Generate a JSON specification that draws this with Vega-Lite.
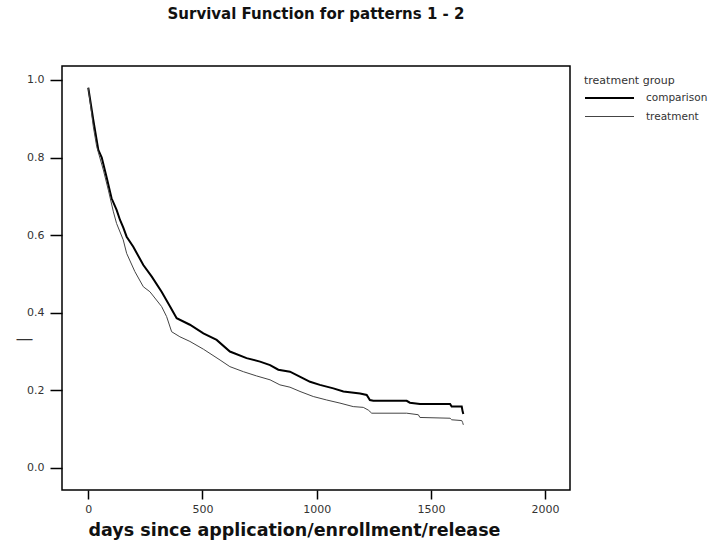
{
  "$schema": "https://vega.github.io/schema/vega-lite/v6.json",
  "width": 508,
  "height": 424,
  "autosize": {"type": "none"},
  "padding": {"left": 62, "top": 66, "right": 143, "bottom": 54},
  "background": "white",
  "config": {
    "view": {"stroke": "black", "strokeWidth": 1.5},
    "font": "Liberation Sans"
  },
  "title": {
    "text": "Survival Function for patterns 1 - 2",
    "font": "DejaVu Sans",
    "fontSize": 15,
    "fontWeight": "bold",
    "offset": 44,
    "color": "#111"
  },
  "data": {
    "values": [
      {"group": "comparison", "days": 0, "survival": 0.98},
      {"group": "comparison", "days": 22, "survival": 0.897},
      {"group": "comparison", "days": 44, "survival": 0.82},
      {"group": "comparison", "days": 59, "survival": 0.8},
      {"group": "comparison", "days": 80, "survival": 0.75},
      {"group": "comparison", "days": 102, "survival": 0.695},
      {"group": "comparison", "days": 124, "survival": 0.665},
      {"group": "comparison", "days": 139, "survival": 0.639},
      {"group": "comparison", "days": 153, "survival": 0.62},
      {"group": "comparison", "days": 168, "survival": 0.596},
      {"group": "comparison", "days": 197, "survival": 0.57},
      {"group": "comparison", "days": 241, "survival": 0.523},
      {"group": "comparison", "days": 278, "survival": 0.493},
      {"group": "comparison", "days": 321, "survival": 0.454},
      {"group": "comparison", "days": 358, "survival": 0.416},
      {"group": "comparison", "days": 387, "survival": 0.386},
      {"group": "comparison", "days": 445, "survival": 0.369},
      {"group": "comparison", "days": 504, "survival": 0.347},
      {"group": "comparison", "days": 562, "survival": 0.33},
      {"group": "comparison", "days": 620, "survival": 0.3},
      {"group": "comparison", "days": 693, "survival": 0.283},
      {"group": "comparison", "days": 752, "survival": 0.274},
      {"group": "comparison", "days": 796, "survival": 0.265},
      {"group": "comparison", "days": 832, "survival": 0.253},
      {"group": "comparison", "days": 883, "survival": 0.248},
      {"group": "comparison", "days": 941, "survival": 0.231},
      {"group": "comparison", "days": 971, "survival": 0.222},
      {"group": "comparison", "days": 1014, "survival": 0.214},
      {"group": "comparison", "days": 1073, "survival": 0.205},
      {"group": "comparison", "days": 1117, "survival": 0.197},
      {"group": "comparison", "days": 1190, "survival": 0.192},
      {"group": "comparison", "days": 1219, "survival": 0.188},
      {"group": "comparison", "days": 1233, "survival": 0.175},
      {"group": "comparison", "days": 1248, "survival": 0.173},
      {"group": "comparison", "days": 1394, "survival": 0.173},
      {"group": "comparison", "days": 1408, "survival": 0.168},
      {"group": "comparison", "days": 1452, "survival": 0.165},
      {"group": "comparison", "days": 1584, "survival": 0.165},
      {"group": "comparison", "days": 1591, "survival": 0.158},
      {"group": "comparison", "days": 1635, "survival": 0.158},
      {"group": "comparison", "days": 1639, "survival": 0.145},
      {"group": "comparison", "days": 1642, "survival": 0.139},
      {"group": "treatment", "days": 0, "survival": 0.98},
      {"group": "treatment", "days": 22, "survival": 0.88},
      {"group": "treatment", "days": 37, "survival": 0.828},
      {"group": "treatment", "days": 66, "survival": 0.768},
      {"group": "treatment", "days": 88, "survival": 0.716},
      {"group": "treatment", "days": 110, "survival": 0.66},
      {"group": "treatment", "days": 124, "survival": 0.63},
      {"group": "treatment", "days": 153, "survival": 0.588},
      {"group": "treatment", "days": 168, "survival": 0.553},
      {"group": "treatment", "days": 204, "survival": 0.506},
      {"group": "treatment", "days": 241, "survival": 0.467},
      {"group": "treatment", "days": 270, "survival": 0.454},
      {"group": "treatment", "days": 321, "survival": 0.416},
      {"group": "treatment", "days": 343, "survival": 0.39},
      {"group": "treatment", "days": 365, "survival": 0.351},
      {"group": "treatment", "days": 401, "survival": 0.338},
      {"group": "treatment", "days": 445, "survival": 0.326},
      {"group": "treatment", "days": 504, "survival": 0.306},
      {"group": "treatment", "days": 577, "survival": 0.278},
      {"group": "treatment", "days": 620, "survival": 0.261},
      {"group": "treatment", "days": 679, "survival": 0.248},
      {"group": "treatment", "days": 737, "survival": 0.237},
      {"group": "treatment", "days": 796, "survival": 0.227},
      {"group": "treatment", "days": 839, "survival": 0.214},
      {"group": "treatment", "days": 883, "survival": 0.208},
      {"group": "treatment", "days": 927, "survival": 0.197},
      {"group": "treatment", "days": 985, "survival": 0.184},
      {"group": "treatment", "days": 1044, "survival": 0.175},
      {"group": "treatment", "days": 1102, "survival": 0.167},
      {"group": "treatment", "days": 1160, "survival": 0.158},
      {"group": "treatment", "days": 1204, "survival": 0.156},
      {"group": "treatment", "days": 1226, "survival": 0.149},
      {"group": "treatment", "days": 1241, "survival": 0.141},
      {"group": "treatment", "days": 1394, "survival": 0.141},
      {"group": "treatment", "days": 1445, "survival": 0.137},
      {"group": "treatment", "days": 1452, "survival": 0.13},
      {"group": "treatment", "days": 1584, "survival": 0.128},
      {"group": "treatment", "days": 1591, "survival": 0.124},
      {"group": "treatment", "days": 1635, "survival": 0.122},
      {"group": "treatment", "days": 1639, "survival": 0.117},
      {"group": "treatment", "days": 1642, "survival": 0.111}
    ]
  },
  "mark": {"type": "line", "interpolate": "linear"},
  "encoding": {
    "x": {
      "field": "days",
      "type": "quantitative",
      "scale": {"domain": [-115, 2109], "nice": false, "zero": false},
      "axis": {
        "values": [0, 500, 1000, 1500, 2000],
        "format": "d",
        "domain": false,
        "grid": false,
        "tickColor": "black",
        "tickWidth": 1.5,
        "tickSize": 9,
        "labelFont": "DejaVu Sans",
        "labelFontSize": 11,
        "labelColor": "#333",
        "labelPadding": 4,
        "title": "days since application/enrollment/release",
        "titleFont": "DejaVu Sans",
        "titleFontSize": 17.5,
        "titleFontWeight": "bold",
        "titleColor": "#111",
        "titleAnchor": "start",
        "titleAlign": "left",
        "titleX": 26,
        "titleY": 45,
        "titleBaseline": "alphabetic"
      }
    },
    "y": {
      "field": "survival",
      "type": "quantitative",
      "scale": {"domain": [-0.057, 1.036], "nice": false, "zero": false},
      "axis": {
        "values": [0, 0.2, 0.4, 0.6, 0.8, 1.0],
        "format": ".1f",
        "domain": false,
        "grid": false,
        "tickColor": "black",
        "tickWidth": 1.5,
        "tickSize": 12,
        "labelFont": "DejaVu Sans",
        "labelFontSize": 11,
        "labelColor": "#333",
        "labelPadding": 6,
        "title": "—",
        "titleAngle": 0,
        "titleX": -38,
        "titleY": 272,
        "titleAlign": "center",
        "titleBaseline": "middle",
        "titleFontSize": 16,
        "titleFontWeight": "normal",
        "titleColor": "#333"
      }
    },
    "color": {
      "field": "group",
      "type": "ordinal",
      "scale": {"domain": ["comparison", "treatment"], "range": ["#000000", "#444444"]},
      "legend": {
        "title": "treatment group",
        "orient": "none",
        "legendX": 522,
        "legendY": 9,
        "titleFont": "DejaVu Sans",
        "titleFontSize": 11,
        "titleFontWeight": "normal",
        "titleColor": "#333",
        "titlePadding": 4,
        "labelFont": "DejaVu Sans",
        "labelFontSize": 10.5,
        "labelColor": "#333",
        "symbolType": "M-1,0H6",
        "symbolSize": 196,
        "labelOffset": 46,
        "rowPadding": 5
      }
    },
    "strokeWidth": {
      "field": "group",
      "type": "ordinal",
      "scale": {"domain": ["comparison", "treatment"], "range": [2, 1]},
      "legend": {
        "title": "treatment group",
        "orient": "none",
        "legendX": 522,
        "legendY": 9,
        "titleFont": "DejaVu Sans",
        "titleFontSize": 11,
        "titleFontWeight": "normal",
        "titleColor": "#333",
        "titlePadding": 4,
        "labelFont": "DejaVu Sans",
        "labelFontSize": 10.5,
        "labelColor": "#333",
        "symbolType": "M-1,0H6",
        "symbolSize": 196,
        "labelOffset": 46,
        "rowPadding": 5
      }
    }
  }
}
